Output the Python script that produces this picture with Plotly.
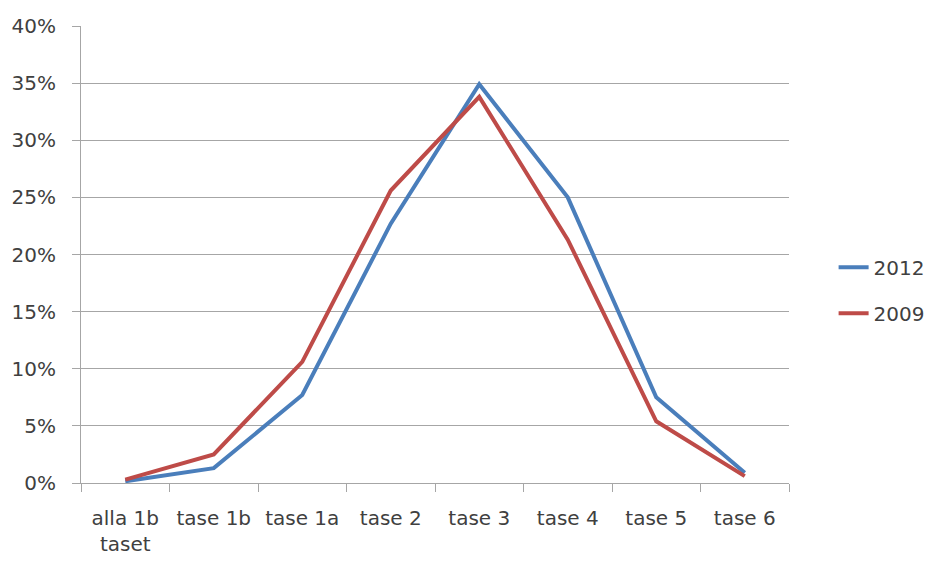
import plotly.graph_objects as go

# categories and series values (fractions)
categories = ['alla 1b<br>taset', 'tase 1b', 'tase 1a', 'tase 2', 'tase 3', 'tase 4', 'tase 5', 'tase 6']
values_2012 = [0.0015, 0.013, 0.077, 0.227, 0.349, 0.250, 0.075, 0.009]
values_2009 = [0.003, 0.025, 0.106, 0.256, 0.338, 0.213, 0.054, 0.006]
y_ticks = [0, 0.05, 0.10, 0.15, 0.20, 0.25, 0.30, 0.35, 0.40]

font_family = 'DejaVu Sans, sans-serif'
text_color = '#404040'
grid_color = '#a6a6a6'

fig = go.Figure()
fig.add_trace(go.Scatter(
    x=categories, y=values_2012, mode='lines', name='2012',
    line=dict(color='#4a7ebb', width=4), legendgroup='a',
))
fig.add_trace(go.Scatter(
    x=categories, y=values_2009, mode='lines', name='2009',
    line=dict(color='#be4b48', width=4), legendgroup='b',
))

# page body has an 8px margin, so the figure margins are shifted by that
fig.update_layout(
    width=946, height=561,
    margin=dict(l=73, r=165, t=18, b=86),
    plot_bgcolor='white',
    paper_bgcolor='white',
    font=dict(family=font_family, size=20, color=text_color),
    showlegend=True,
    legend=dict(
        x=1.063, xanchor='left', y=0.422, yanchor='middle',
        traceorder='grouped', tracegroupgap=17,
        font=dict(size=20, color=text_color),
        bgcolor='rgba(0,0,0,0)',
    ),
    xaxis=dict(
        type='category',
        tickson='boundaries',
        ticks='outside', ticklen=8, tickcolor=grid_color, tickwidth=1,
        showline=True, linecolor=grid_color, linewidth=1,
        showgrid=False,
        range=[-0.5, 7.5],
        ticklabelstandoff=17,
        automargin=False,
        tickfont=dict(size=20, color=text_color),
    ),
    yaxis=dict(
        range=[0, 0.4],
        tickvals=y_ticks,
        tickformat='.0%',
        ticks='outside', ticklen=8, tickcolor=grid_color, tickwidth=1,
        showline=True, linecolor=grid_color, linewidth=1,
        showgrid=True, gridcolor=grid_color, gridwidth=1,
        zeroline=False,
        ticklabelstandoff=12,
        automargin=False,
        tickfont=dict(size=20, color=text_color),
    ),
)

fig.write_html("out.html")
